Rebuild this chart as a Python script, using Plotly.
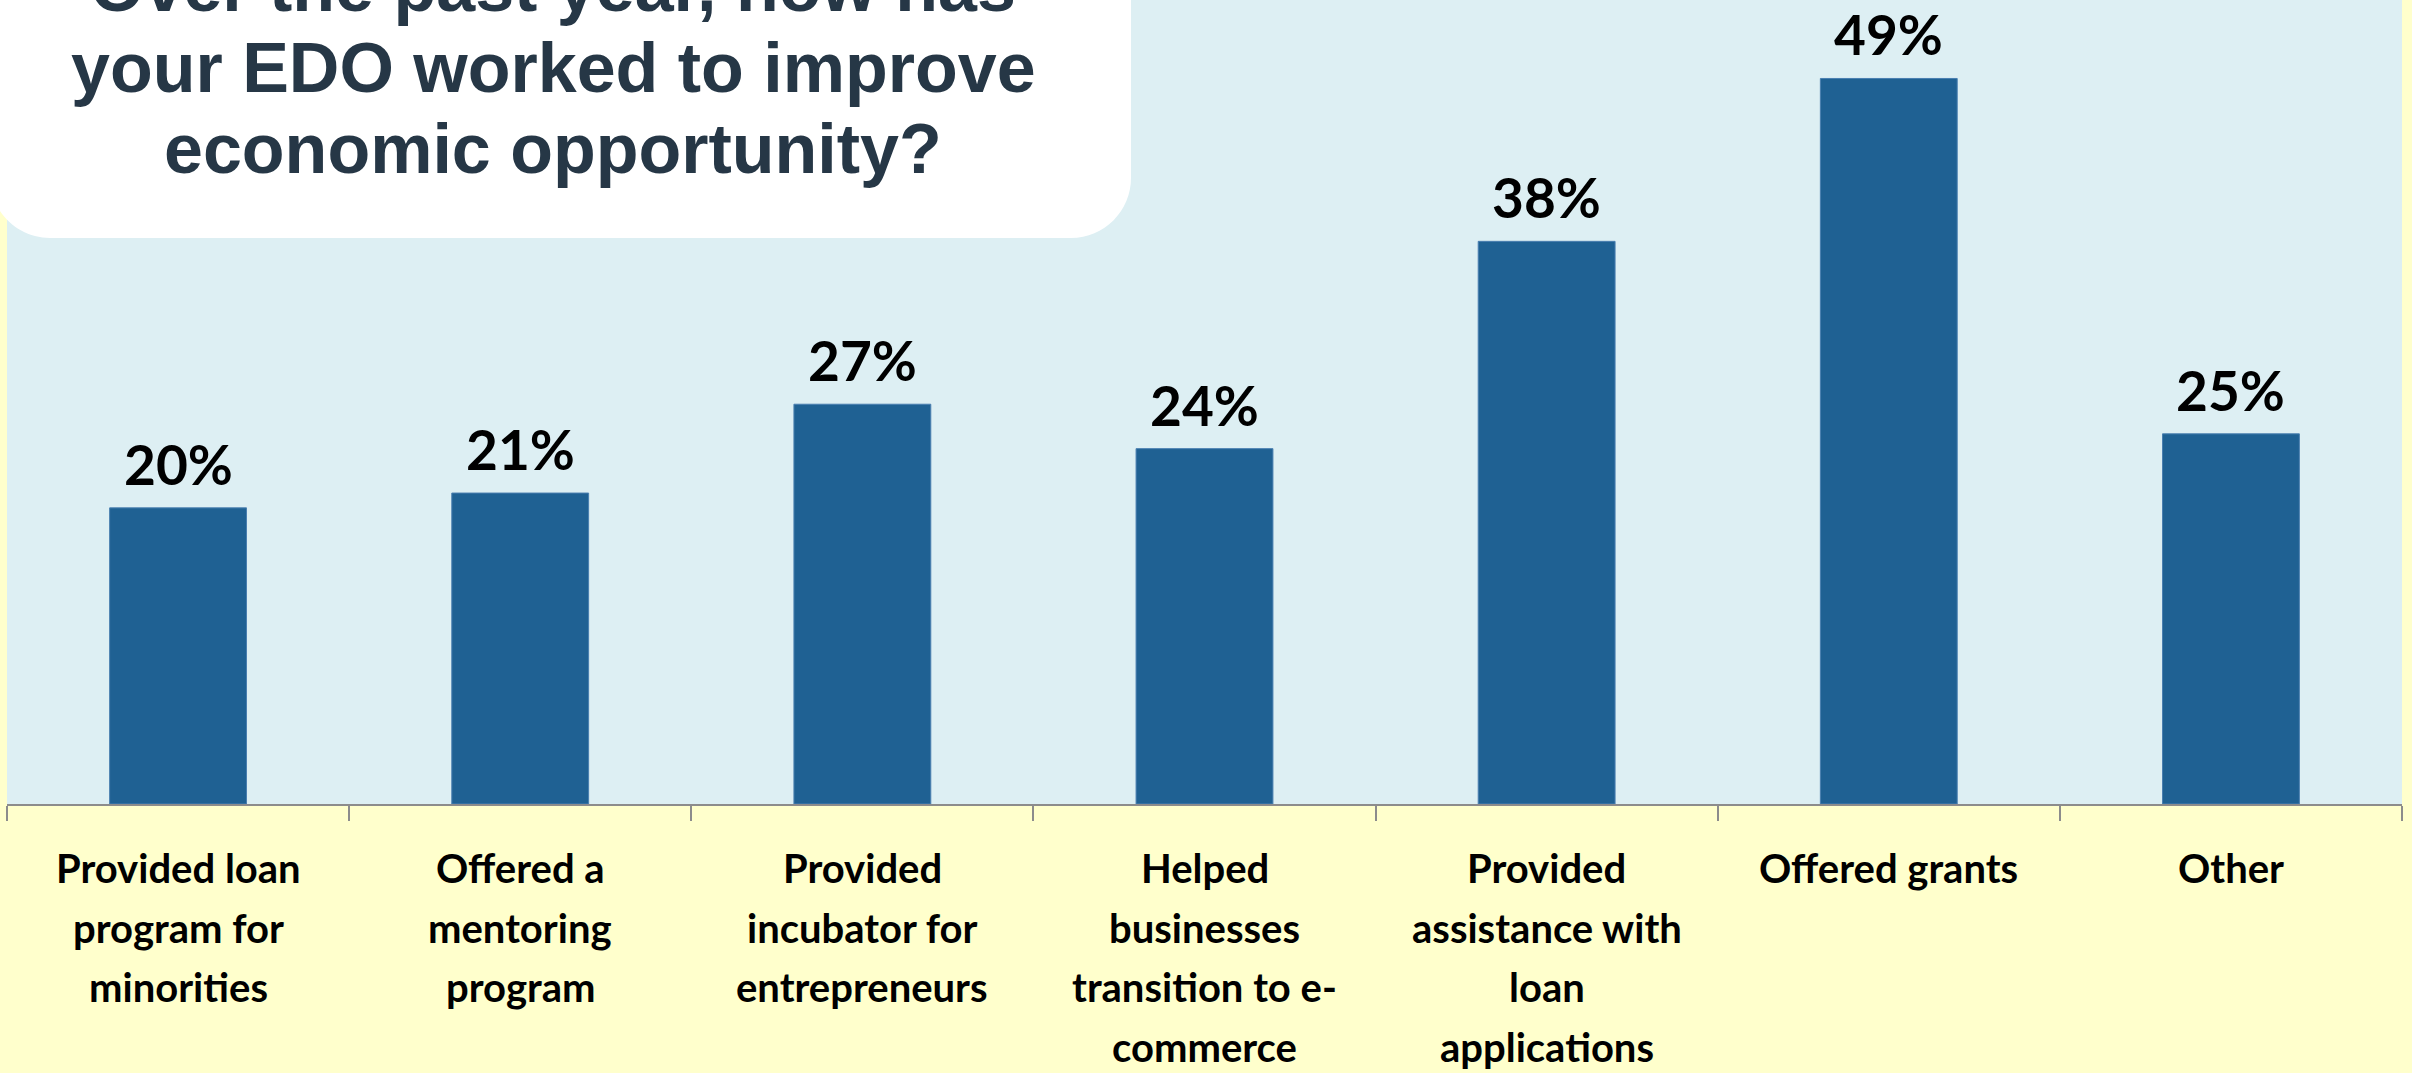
import plotly.graph_objects as go

# Survey answers and their shares (percent of respondents)
categories = [
    "Provided loan<br>program for<br>minorities",
    "Offered a<br>mentoring<br>program",
    "Provided<br>incubator for<br>entrepreneurs",
    "Helped<br>businesses<br>transition to e-<br>commerce",
    "Provided<br>assistance with<br>loan<br>applications",
    "Offered grants",
    "Other",
]
shares = [20, 21, 27, 24, 38, 49, 25]
value_labels = [f"{v}%" for v in shares]

title_lines = [
    "Over the past year, how has",
    "your EDO worked to improve",
    "economic opportunity?",
]

W, H = 2412, 1073
ML, MR, MT, MB = 7, 10, 0, 269
PW, PH = W - ML - MR, H - MT - MB


def px_x(x):
    return (x - ML) / PW


def px_y(y):
    return 1 - (y - MT) / PH


fig = go.Figure(
    go.Bar(
        x=categories,
        y=shares,
        width=0.4,
        marker=dict(color="#1F6193", line=dict(color="#4A7FB0", width=1)),
        hoverinfo="skip",
    )
)

# percentage labels above each bar
for cat, v, lab in zip(categories, shares, value_labels):
    fig.add_annotation(
        x=cat, y=v, text=f"<b>{lab}</b>", showarrow=False,
        yanchor="bottom", yshift=10, borderpad=0,
        font=dict(family="Lato", size=55, color="#000000"),
    )

# category names under the axis, one line at a time for wider leading
LINE_TOP, LINE_STEP = 868, 59.5
for cat in categories:
    for i, part in enumerate(cat.split("<br>")):
        fig.add_annotation(
            x=cat, y=px_y(LINE_TOP + i * LINE_STEP), xref="x", yref="paper",
            text=f"<b>{part}</b>", showarrow=False,
            xanchor="center", yanchor="middle",
            font=dict(family="Lato", size=40, color="#000000"),
        )

# rounded white title panel in the top-left corner
x0, x1 = px_x(-10), px_x(1131)
y0, y1 = px_y(238), px_y(-60)
rx, ry = 60 / PW, 60 / PH
k = 0.45
path = (
    f"M {x0} {y1} L {x1} {y1} L {x1} {y0 + ry} "
    f"C {x1} {y0 + ry * k} {x1 - rx * k} {y0} {x1 - rx} {y0} "
    f"L {x0 + rx} {y0} "
    f"C {x0 + rx * k} {y0} {x0} {y0 + ry * k} {x0} {y0 + ry} Z"
)
fig.add_shape(type="path", path=path, xref="paper", yref="paper",
              fillcolor="#FFFFFF", line=dict(width=0), layer="above")

for line, ypx in zip(title_lines, [-13, 68, 149]):
    fig.add_annotation(
        x=px_x(553), y=px_y(ypx), xref="paper", yref="paper",
        text=f"<b>{line}</b>", showarrow=False,
        xanchor="center", yanchor="middle",
        font=dict(family="Liberation Sans, Arial", size=70, color="#263746"),
    )

fig.update_layout(
    width=W, height=H,
    margin=dict(l=ML, r=MR, t=MT, b=MB, pad=0),
    paper_bgcolor="#FFFFCC",
    plot_bgcolor="#DDEFF3",
    showlegend=False,
    bargap=0.6,
)
fig.update_xaxes(
    showline=True, linecolor="#8C8C8C", linewidth=2,
    ticks="outside", ticklen=15, tickwidth=2, tickcolor="#8C8C8C",
    tickson="boundaries", showticklabels=False,
    showgrid=False,
)
fig.update_yaxes(range=[0, 54.3], visible=False, showgrid=False, zeroline=False)

fig.write_html("out.html")
